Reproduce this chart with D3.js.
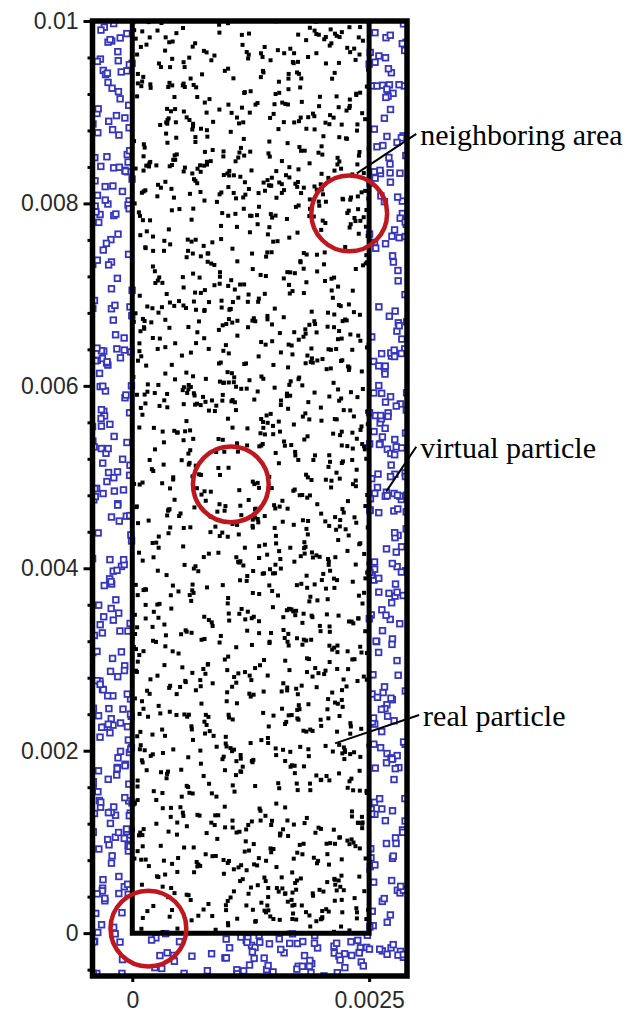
<!DOCTYPE html>
<html>
<head>
<meta charset="utf-8">
<script src="https://cdn.jsdelivr.net/npm/d3@7"></script>
<style>
  body { margin: 0; background: #fff; }
  svg { display: block; }
</style>
</head>
<body>
<svg width="627" height="1012"></svg>
<script>
// domain of the plot (m) and inner fluid box
var xDomain = [-0.00042, 0.0029],
    yDomain = [-0.00047, 0.01];
var boxX = [0, 0.0025],
    boxY = [0, 0.01];

// axis ticks
var yMajorTicks = [0, 0.002, 0.004, 0.006, 0.008, 0.01];
var yTickLabels = ["0", "0.002", "0.004", "0.006", "0.008", "0.01"];
var yMinorTicks = [-0.0004, 0.0004, 0.0008, 0.0012, 0.0016, 0.0024, 0.0028, 0.0032, 0.0036,
                   0.0044, 0.0048, 0.0052, 0.0056, 0.0064, 0.0068, 0.0072, 0.0076,
                   0.0084, 0.0088, 0.0092, 0.0096];
var xTicks = [0, 0.0025];
var xTickLabels = ["0", "0.0025"];

// neighbouring-area circles (kernel support) : centre x, centre y, radius
var circleX = [0.00229, 0.00104, 0.00017];
var circleY = [0.00789, 0.00492, 0.00005];
var circleR = [0.0004, 0.0004, 0.0004];

// particle counts (estimated from density in the picture)
var realCount = 1600,
    virtualCount = 600;

// annotations: label, text anchor (data), leader end (data)
var noteLabels = ["neighboring area", "virtual particle", "real particle"];
var noteTextX = [0.00304, 0.00304, 0.00307];
var noteTextY = [0.00874, 0.00531, 0.00237];
var noteEndX = [0.00237, 0.00268, 0.00214];
var noteEndY = [0.00833, 0.00484, 0.00208];

var svg = d3.select("svg");

var x = d3.scaleLinear().domain(xDomain).range([92.5, 407]),
    y = d3.scaleLinear().domain(yDomain).range([976, 21]);

// particle positions: seeded generator, the picture is a uniform random cloud
var rnd = d3.randomLcg(0.4217);
var realPts = [];
for (var i = 0; i < realCount; i++) {
  realPts.push([boxX[0] + rnd() * (boxX[1] - boxX[0]), boxY[0] + rnd() * (boxY[1] - boxY[0])]);
}
var virtPts = [];
while (virtPts.length < virtualCount) {
  var px = xDomain[0] + rnd() * (xDomain[1] - xDomain[0]),
      py = yDomain[0] + rnd() * (yDomain[1] - yDomain[0]);
  if (px > boxX[0] && px < boxX[1] && py > boxY[0]) continue;
  virtPts.push([px, py]);
}

svg.append("clipPath").attr("id", "frameClip")
  .append("rect")
  .attr("x", x(xDomain[0])).attr("y", y(yDomain[1]))
  .attr("width", x(xDomain[1]) - x(xDomain[0]))
  .attr("height", y(yDomain[0]) - y(yDomain[1]));

var plot = svg.append("g").attr("clip-path", "url(#frameClip)");

plot.selectAll(".virt")
  .data(virtPts)
  .enter().append("rect")
  .attr("class", "virt")
  .attr("x", function(d) { return x(d[0]) - 2.8; })
  .attr("y", function(d) { return y(d[1]) - 2.8; })
  .attr("width", 5.6)
  .attr("height", 5.6)
  .attr("fill", "#fff")
  .attr("stroke", "#3535c2")
  .attr("stroke-width", 1.8);

plot.selectAll(".real")
  .data(realPts)
  .enter().append("rect")
  .attr("class", "real")
  .attr("x", function(d) { return x(d[0]) - 2; })
  .attr("y", function(d) { return y(d[1]) - 2; })
  .attr("width", 4)
  .attr("height", 4)
  .attr("fill", "#000");

// inner wall (open at top)
plot.append("path")
  .attr("d", d3.line()([[x(boxX[0]), y(boxY[1])], [x(boxX[0]), y(boxY[0])],
                        [x(boxX[1]), y(boxY[0])], [x(boxX[1]), y(boxY[1])]]))
  .attr("fill", "none")
  .attr("stroke", "#000")
  .attr("stroke-width", 5)
  .attr("stroke-linejoin", "miter")
  .attr("stroke-linecap", "square");

// circles
svg.selectAll(".hood")
  .data(circleX)
  .enter().append("circle")
  .attr("class", "hood")
  .attr("cx", function(d) { return x(d); })
  .attr("cy", function(d, i) { return y(circleY[i]); })
  .attr("r", function(d, i) { return x(circleR[i]) - x(0); })
  .attr("fill", "none")
  .attr("stroke", "#c0161e")
  .attr("stroke-width", 4.5);

// axes
svg.append("g")
  .attr("transform", "translate(" + x(xDomain[0]) + ",0)")
  .call(d3.axisLeft(y).tickValues(yMajorTicks).tickSize(9).tickPadding(5)
    .tickFormat(function(d, i) { return yTickLabels[i]; }));
svg.append("g")
  .attr("transform", "translate(" + x(xDomain[0]) + ",0)")
  .call(d3.axisLeft(y).tickValues(yMinorTicks).tickSize(5).tickFormat(""));
svg.append("g")
  .attr("transform", "translate(0," + y(yDomain[0]) + ")")
  .call(d3.axisBottom(x).tickValues(xTicks).tickSize(6).tickPadding(10)
    .tickFormat(function(d, i) { return xTickLabels[i]; }));

svg.selectAll(".domain").remove();
svg.selectAll(".tick line").attr("stroke", "#000").attr("stroke-width", 3);
svg.selectAll(".tick text")
  .attr("font-family", "Liberation Sans, Arial, sans-serif")
  .attr("font-size", "23px")
  .attr("fill", "#2a2a2a");

// outer frame
svg.append("rect")
  .attr("x", x(xDomain[0])).attr("y", y(yDomain[1]))
  .attr("width", x(xDomain[1]) - x(xDomain[0]))
  .attr("height", y(yDomain[0]) - y(yDomain[1]))
  .attr("fill", "none")
  .attr("stroke", "#000")
  .attr("stroke-width", 5.5);

// annotations
var notes = svg.selectAll(".note")
  .data(noteLabels)
  .enter().append("g")
  .attr("class", "note");

notes.append("line")
  .attr("x1", function(d, i) { return x(noteTextX[i]) - 4; })
  .attr("y1", function(d, i) { return y(noteTextY[i]) - 2; })
  .attr("x2", function(d, i) { return x(noteEndX[i]); })
  .attr("y2", function(d, i) { return y(noteEndY[i]); })
  .attr("stroke", "#000")
  .attr("stroke-width", 2);

notes.append("text")
  .attr("x", function(d, i) { return x(noteTextX[i]); })
  .attr("y", function(d, i) { return y(noteTextY[i]); })
  .attr("dy", "0.3em")
  .attr("font-family", "Liberation Serif, Times New Roman, serif")
  .attr("font-size", "30px")
  .attr("fill", "#000")
  .text(function(d) { return d; });
</script>
</body>
</html>
